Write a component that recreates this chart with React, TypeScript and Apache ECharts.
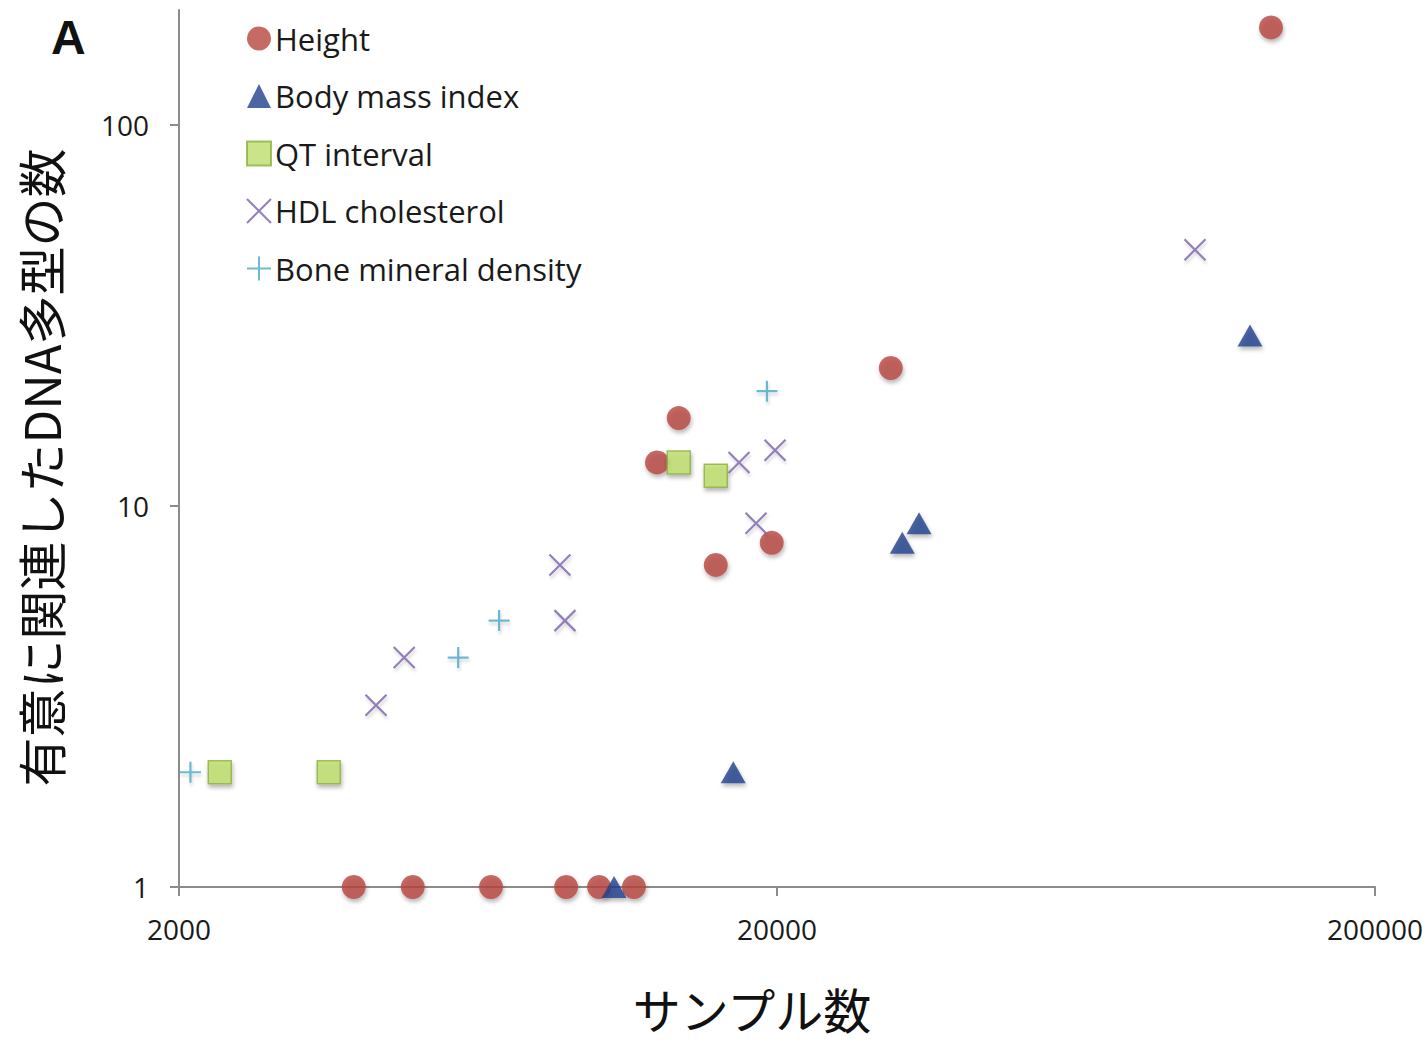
import React, { useEffect, useRef } from "react";
import * as echarts from "echarts";

// Data (x = sample size, y = number of associated DNA polymorphisms)
const heightPoints: number[][] = [
  [3920, 1], [4920, 1], [6650, 1], [8880, 1], [10080, 1], [11530, 1],
  [12600, 13], [13700, 17], [15800, 7], [19600, 8], [31000, 23], [134000, 180],
];
const bmiPoints: number[][] = [
  [10680, 1], [16900, 2], [32400, 8], [34560, 9], [123600, 28],
];
const qtPoints: number[][] = [
  [2340, 2], [3560, 2], [13700, 13], [15800, 12],
];
const hdlPoints: number[][] = [
  [4270, 3], [4760, 4], [8670, 7], [8840, 5], [17280, 13], [18450, 9], [19850, 14], [100000, 47],
];
const bmdPoints: number[][] = [
  [2090, 2], [5860, 4], [6860, 5], [19240, 20],
];

const seriesNames = ["Height", "Body mass index", "QT interval", "HDL cholesterol", "Bone mineral density"];
const xTickLabels = ["2000", "20000", "200000"];
const yTickLabels = ["1", "10", "100"];
const xMin = 2000;
const xMax = 200000;
const yMin = 1;
const yMax = 200;

const CROSS = "path://M0,0L10,10M10,0L0,10";
const PLUS = "path://M5,0L5,10M0,5L10,5";

export default function App() {
  const ref = useRef<HTMLDivElement>(null);

  useEffect(() => {
    if (!ref.current) return;
    const chart = echarts.init(ref.current, undefined, { renderer: "svg" });
    const axisColor = "#8c8c8c";
    const labelFont = "Open Sans";
    const cjkFont = "Noto Sans CJK JP";
    const shadow = {
      shadowBlur: 4,
      shadowColor: "rgba(0,0,0,0.35)",
      shadowOffsetX: 1,
      shadowOffsetY: 3,
    };
    const xSpan = Math.log10(xMax / xMin);
    const ySpan = Math.log10(yMax / yMin);

    chart.setOption({
      animation: false,
      backgroundColor: "#ffffff",
      grid: { left: 179, right: 52, top: 10, bottom: 155 },
      graphic: [
        {
          type: "text",
          left: 51,
          top: 13,
          style: { text: "A", font: "bold 48px 'Liberation Sans'", fill: "#111111" },
        },
      ],
      legend: {
        orient: "vertical",
        left: 246,
        top: 23,
        itemWidth: 24,
        itemHeight: 24,
        itemGap: 26.5,
        padding: 0,
        data: seriesNames,
        textStyle: {
          fontSize: 31,
          lineHeight: 29,
          fontFamily: labelFont,
          color: "#1a1a1a",
          padding: [0, 0, 0, -1],
        },
      },
      xAxis: [
        { type: "log", min: xMin, max: xMax, show: false },
        {
          type: "value",
          min: 0,
          max: xSpan,
          position: "bottom",
          axisLine: { show: true, onZero: false, lineStyle: { color: axisColor, width: 2 } },
          axisTick: { show: true, length: 9, customValues: [0, 1, 2], lineStyle: { color: axisColor, width: 2 } },
          axisLabel: {
            customValues: [0, 1, 2],
            formatter: (v: number) => xTickLabels[Math.round(v)],
            fontSize: 28,
            fontFamily: labelFont,
            color: "#1a1a1a",
            margin: 28,
          },
          splitLine: { show: false },
          name: "サンプル数",
          nameLocation: "middle",
          nameGap: 97,
          nameTextStyle: {
            fontSize: 48,
            lineHeight: 48,
            fontFamily: cjkFont,
            color: "#111111",
            padding: [0, 50, 0, 0],
          },
        },
      ],
      yAxis: [
        { type: "log", min: yMin, max: yMax, show: false },
        {
          type: "value",
          min: 0,
          max: ySpan,
          position: "left",
          axisLine: { show: true, onZero: false, lineStyle: { color: axisColor, width: 2 } },
          axisTick: { show: true, length: 9, customValues: [0, 1, 2], lineStyle: { color: axisColor, width: 2 } },
          axisLabel: {
            customValues: [0, 1, 2],
            formatter: (v: number) => yTickLabels[Math.round(v)],
            fontSize: 28,
            fontFamily: labelFont,
            color: "#1a1a1a",
            margin: 30,
          },
          splitLine: { show: false },
          name: "有意に関連したDNA多型の数",
          nameLocation: "middle",
          nameGap: 115,
          nameTextStyle: {
            fontSize: 49,
            lineHeight: 50,
            fontFamily: cjkFont,
            color: "#111111",
            padding: [0, 38, 0, 0],
          },
        },
      ],
      series: [
        {
          name: seriesNames[0],
          type: "scatter",
          xAxisIndex: 0,
          yAxisIndex: 0,
          data: heightPoints,
          symbol: "circle",
          symbolSize: 24,
          itemStyle: { color: "#b7463f", ...shadow },
        },
        {
          name: seriesNames[1],
          type: "scatter",
          xAxisIndex: 0,
          yAxisIndex: 0,
          data: bmiPoints,
          symbol: "triangle",
          symbolSize: [25, 22],
          itemStyle: { color: "#213f8c", ...shadow },
        },
        {
          name: seriesNames[2],
          type: "scatter",
          xAxisIndex: 0,
          yAxisIndex: 0,
          data: qtPoints,
          symbol: "rect",
          symbolSize: 23,
          itemStyle: { color: "#bddf6b", borderColor: "#8bb23c", borderWidth: 1.5, ...shadow },
        },
        {
          name: seriesNames[3],
          type: "scatter",
          xAxisIndex: 0,
          yAxisIndex: 0,
          data: hdlPoints,
          symbol: CROSS,
          symbolSize: 21,
          itemStyle: {
            color: "rgba(0,0,0,0)",
            borderColor: "#7b62aa",
            borderWidth: 2.2,
            ...shadow,
            shadowBlur: 3,
            shadowColor: "rgba(0,0,0,0.2)",
          },
        },
        {
          name: seriesNames[4],
          type: "scatter",
          xAxisIndex: 0,
          yAxisIndex: 0,
          data: bmdPoints,
          symbol: PLUS,
          symbolSize: 21,
          itemStyle: {
            color: "rgba(0,0,0,0)",
            borderColor: "#4ba7c9",
            borderWidth: 2.2,
            ...shadow,
            shadowBlur: 3,
            shadowColor: "rgba(0,0,0,0.2)",
          },
        },
      ],
    });

    return () => chart.dispose();
  }, []);

  return (
    <div
      ref={ref}
      style={{ position: "absolute", left: 0, top: 0, width: 1427, height: 1042, background: "#ffffff" }}
    />
  );
}
